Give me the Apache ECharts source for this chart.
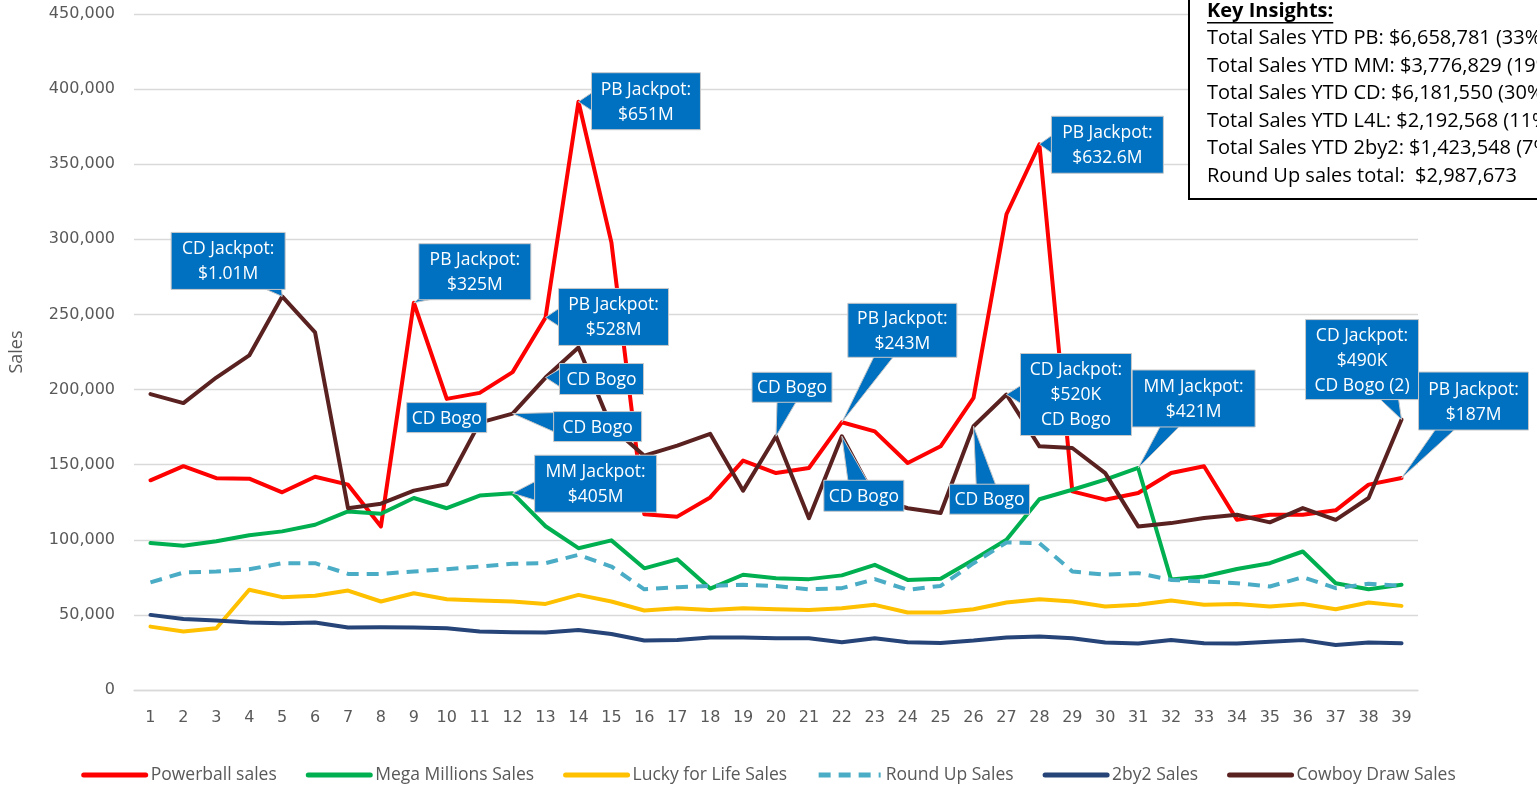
<!DOCTYPE html>
<html><head><meta charset="utf-8">
<script src="https://cdn.jsdelivr.net/npm/echarts@6/dist/echarts.min.js"></script>
<style>html,body{margin:0;padding:0;background:#fff;}#c{width:1537px;height:786px;}</style>
</head><body><div id="c"></div>
<script>
const weeks = ['1','2','3','4','5','6','7','8','9','10','11','12','13','14','15','16','17','18','19','20','21','22','23','24','25','26','27','28','29','30','31','32','33','34','35','36','37','38','39'];
const powerball = [139600,149000,141000,140700,131600,142000,136700,108900,257800,193800,197800,211600,248000,391600,298000,117000,115400,128200,152700,144400,147800,178200,172200,151100,162200,194400,316700,363300,132200,126700,131100,144400,148900,113300,116700,116700,119600,136700,141100];
const megaMillions = [97800,96000,99000,103000,105600,110000,118900,117300,127800,121000,129400,131000,109000,94400,99600,81000,87000,67500,76700,74400,73800,76300,83300,73300,74000,86700,100000,127000,133300,140000,147800,73500,75600,80500,84400,92200,71100,67100,70000];
const luckyForLife = [42200,38900,41100,66700,61800,62700,66200,58900,64400,60400,59600,58900,57300,63300,58900,52900,54400,53300,54400,53800,53300,54400,56700,51600,51600,53800,58200,60400,58900,55600,56700,59600,56700,57300,55600,57300,53800,58200,56000];
const roundUp = [71600,78200,78900,80400,84400,84400,77300,77300,78900,80400,82200,84000,84400,90000,82200,67000,68400,69300,70000,69300,67000,67800,73800,66700,69300,84400,98200,97800,78900,76700,77800,73300,72200,71100,68900,75100,67800,70700,69300];
const twoByTwo = [50000,47300,46200,44900,44400,44900,41600,41800,41600,41100,38900,38400,38200,40000,37300,33000,33300,35000,35000,34400,34400,31800,34400,31800,31300,32900,35000,35600,34400,31600,30900,33300,31100,31000,32200,33200,30000,31600,31200];
const cowboyDraw = [197000,191000,208000,222700,262000,238000,121000,124000,132700,137000,178000,184000,208000,228000,175000,156000,162700,170500,132700,168900,114400,168900,128000,121000,117800,175600,196700,162200,161100,144400,108900,111100,114500,116700,111600,121100,113300,127800,180000];

const seriesNames = ['Powerball sales','Mega Millions Sales','Lucky for Life Sales','Round Up Sales','2by2 Sales','Cowboy Draw Sales'];
const yMin = 0, yMax = 450000, yStep = 50000;

const insightsTitle = 'Key Insights:';
const insights = [
  'Total Sales YTD PB: $6,658,781 (33%)',
  'Total Sales YTD MM: $3,776,829 (19%)',
  'Total Sales YTD CD: $6,181,550 (30%)',
  'Total Sales YTD L4L: $2,192,568 (11%)',
  'Total Sales YTD 2by2: $1,423,548 (7%)',
  'Round Up sales total:  $2,987,673'
];

// callouts: series, category index, text; box offset relative to the point
const callouts = [
  {s:5, i:4,  lines:['CD Jackpot:','$1.01M'],        dx:-111, dy:-64, w:114, h:57},
  {s:0, i:8,  lines:['PB Jackpot:','$325M'],         dx:5,    dy:-59, w:112, h:56},
  {s:0, i:13, lines:['PB Jackpot:','$651M'],         dx:13,   dy:-29, w:109, h:57},
  {s:0, i:12, lines:['PB Jackpot:','$528M'],         dx:13,   dy:-29, w:110, h:57},
  {s:5, i:12, lines:['CD Bogo'],                     dx:14,   dy:-14, w:84,  h:31},
  {s:5, i:10, lines:['CD Bogo'],                     dx:-73,  dy:-20, w:80,  h:30},
  {s:5, i:11, lines:['CD Bogo'],                     dx:41,   dy:-2,  w:88,  h:30},
  {s:1, i:11, lines:['MM Jackpot:','$405M'],         dx:22,   dy:-38, w:122, h:57},
  {s:5, i:19, lines:['CD Bogo'],                     dx:-24,  dy:-64, w:80,  h:30},
  {s:0, i:21, lines:['PB Jackpot:','$243M'],         dx:6,    dy:-119,w:109, h:54},
  {s:5, i:21, lines:['CD Bogo'],                     dx:-18,  dy:44,  w:80,  h:31},
  {s:5, i:25, lines:['CD Bogo'],                     dx:-24,  dy:58,  w:80,  h:30},
  {s:0, i:27, lines:['PB Jackpot:','$632.6M'],       dx:12,   dy:-28, w:112, h:57},
  {s:5, i:26, lines:['CD Jackpot:','$520K','CD Bogo'], dx:14, dy:-41, w:111, h:82},
  {s:1, i:30, lines:['MM Jackpot:','$421M'],         dx:-6,   dy:-98, w:123, h:57},
  {s:5, i:38, lines:['CD Jackpot:','$490K','CD Bogo (2)'], dx:-96, dy:-100, w:113, h:80},
  {s:0, i:38, lines:['PB Jackpot:','$187M'],         dx:17,   dy:-106,w:110, h:58}
];

const allData = [powerball, megaMillions, luckyForLife, roundUp, twoByTwo, cowboyDraw];
const colors = ['#FF0000','#00B050','#FFC000','#4BACC6','#264478','#5A2121'];

const chart = echarts.init(document.getElementById('c'));
const option = {
  animation: false,
  backgroundColor: '#fff',
  grid: {left:130, right:119, top:14, bottom:96},
  xAxis: {
    type:'category', data: weeks, boundaryGap:true,
    axisLine:{lineStyle:{color:'#d9d9d9', width:1.3}},
    axisTick:{show:false},
    axisLabel:{color:'#595959', fontSize:16, fontFamily:'DejaVu Sans', margin:20, interval:0}
  },
  yAxis: {
    type:'value', min:yMin, max:yMax, interval:yStep,
    name:'Sales', nameLocation:'middle', nameGap:108, nameRotate:90,
    nameTextStyle:{color:'#595959', fontSize:18, fontFamily:'Open Sans'},
    axisLine:{show:false}, axisTick:{show:false},
    axisLabel:{color:'#595959', fontSize:16, fontFamily:'DejaVu Sans', margin:19,
      formatter: v => v.toLocaleString('en-US')},
    splitLine:{lineStyle:{color:'#d9d9d9', width:1.3}}
  },
  legend: {
    top: 761, left:'center',
    itemWidth:62, itemHeight:14, itemGap:29,
    itemStyle:{opacity:0},
    lineStyle:{width:5},
    textStyle:{color:'#595959', fontSize:17.5, fontFamily:'Open Sans'},
    data: seriesNames
  },
  series: seriesNames.map((n,k)=>({
    name:n, type:'line', data: allData[k], symbol:'none', z: 2+k,
    color: colors[k],
    lineStyle:{width:4, color:colors[k], type: k===3 ? [12,8] : 'solid', cap: k===3 ? 'butt' : 'round', join:'round'}
  }))
};
chart.setOption(option);

// Build callouts and insights box
const g = [];
const fill = '#0070C0', edge = '#C8C8C8';
callouts.forEach(c=>{
  const v = allData[c.s][c.i];
  const p = chart.convertToPixel({gridIndex:0}, [c.i, v]);
  const px = p[0], py = p[1];
  const bx = px + c.dx, by = py + c.dy;
  const cx = bx + c.w/2, cy = by + c.h/2;
  const inside = px >= bx && px <= bx + c.w && py >= by && py <= by + c.h;
  if (!inside) {
    const ddx = px - cx, ddy = py - cy;
    const tx = ddx !== 0 ? (c.w/2)/Math.abs(ddx) : Infinity;
    const ty = ddy !== 0 ? (c.h/2)/Math.abs(ddy) : Infinity;
    const hb = 10;
    let pts;
    if (tx < ty) {
      const ex = cx + ddx*tx, ey = cy + ddy*tx;
      const y1 = Math.max(by+1, Math.min(by + c.h - 1 - 2*hb, ey - hb));
      const xin = ex + (ddx > 0 ? -2 : 2);
      pts = [[xin, y1], [px, py], [xin, y1 + 2*hb]];
    } else {
      const ex = cx + ddx*ty, ey = cy + ddy*ty;
      const x1 = Math.max(bx+1, Math.min(bx + c.w - 1 - 2*hb, ex - hb));
      const yin = ey + (ddy > 0 ? -2 : 2);
      pts = [[x1, yin], [px, py], [x1 + 2*hb, yin]];
    }
    g.push({type:'polygon', z:100, shape:{points:pts}, style:{fill:fill, stroke:edge, lineWidth:1}});
  }
  g.push({type:'rect', z:101, shape:{x:bx, y:by, width:c.w, height:c.h}, style:{fill:fill, stroke:edge, lineWidth:1}});
  g.push({type:'text', z:102, style:{text:c.lines.join('\n'), x:cx, y:cy+1, fill:'#fff',
    font:'17.5px "Open Sans"', align:'center', verticalAlign:'middle', lineHeight:25}});
});

// Key insights box
const boxX = 1189, boxY = -6, boxW = 400, boxH = 205;
g.push({type:'rect', z:110, shape:{x:boxX, y:boxY, width:boxW, height:boxH}, style:{fill:'#fff', stroke:'#000', lineWidth:2}});
const tx0 = 1207, lineH = 27.5, firstY = 10.8;
g.push({type:'text', z:111, style:{text:insightsTitle, x:tx0, y:firstY, fill:'#000', font:'bold 20px "Open Sans"', verticalAlign:'middle'}});
const mctx = document.createElement('canvas').getContext('2d');
mctx.font = 'bold 20px "Open Sans"';
const tw = mctx.measureText(insightsTitle).width;
g.push({type:'line', z:111, shape:{x1:tx0, y1:firstY+12, x2:tx0+tw, y2:firstY+12}, style:{stroke:'#000', lineWidth:1.5}});
insights.forEach((t,k)=>{
  g.push({type:'text', z:111, style:{text:t, x:tx0, y:firstY + (k+1)*lineH, fill:'#000', font:'20px "Open Sans"', verticalAlign:'middle'}});
});
chart.setOption({graphic:{elements:g}});
</script>
</body></html>
